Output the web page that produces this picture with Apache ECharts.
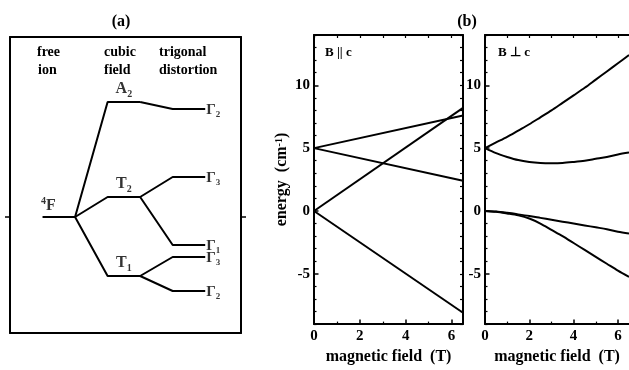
<!DOCTYPE html>
<html><head><meta charset="utf-8">
<script src="https://cdn.jsdelivr.net/npm/echarts@6/dist/echarts.min.js"></script>
<style>html,body{margin:0;padding:0;background:#fff}#c{width:629px;height:370px}</style>
</head><body><div id="c"></div>
<script>
// ---------- Panel (a): level scheme (arbitrary energy units) ----------
const freeIonName = '4F';
const freeIonE = 0;
const cubicNames = ['A2', 'T2', 'T1'];
const cubicE = [115, 20, -59];
const trigonalNames = ['Γ2', 'Γ3', 'Γ1', 'Γ3', 'Γ2'];
const trigonalE = [108, 40, -28, -40, -74];
const trigonalParent = [0, 1, 1, 2, 2];
const stageEdges = [0, 1, 2, 3, 4, 5]; // free ion [0,1], cubic [2,3], trigonal [4,5]

// ---------- Panel (b) left: B || c ----------
const fieldPar = [0, 6.5];
const par1 = [5, 7.6];
const par2 = [0, 8.2];
const par3 = [5, 2.4];
const par4 = [0, -8.1];

// ---------- Panel (b) right: B ⊥ c ----------
const fieldPerp = [0, 0.5, 1, 1.5, 2, 2.5, 3, 3.5, 4, 4.5, 5, 5.5, 6, 6.5];
const perp1 = [5.0, 5.45, 5.9, 6.4, 6.9, 7.45, 8.0, 8.6, 9.2, 9.8, 10.45, 11.1, 11.75, 12.4];
const perp2 = [5.0, 4.6, 4.3, 4.05, 3.9, 3.82, 3.8, 3.82, 3.9, 4.0, 4.15, 4.3, 4.5, 4.65];
const perp3 = [0, -0.05, -0.15, -0.27, -0.4, -0.55, -0.7, -0.85, -1.0, -1.15, -1.3, -1.45, -1.65, -1.8];
const perp4 = [0, -0.07, -0.2, -0.35, -0.6, -1.0, -1.5, -2.0, -2.55, -3.1, -3.65, -4.2, -4.75, -5.25];

// ---------- ticks ----------
const xTickLabels = [0, 2, 4, 6];
const xMinorTicks = [1, 3, 5];
const xAllTicks = [0, 1, 2, 3, 4, 5, 6];
const yTickLabels = [-5, 0, 5, 10];
const yMinorTicks = [-9, -8, -7, -6, -4, -3, -2, -1, 1, 2, 3, 4, 6, 7, 8, 9, 11, 12, 13, 14];
const yAllTicks = [-9, -8, -7, -6, -5, -4, -3, -2, -1, 0, 1, 2, 3, 4, 5, 6, 7, 8, 9, 10, 11, 12, 13, 14];

const SERIF = '"Liberation Serif","Times New Roman",serif';
const BLACK = '#000';

const chart = echarts.init(document.getElementById('c'), null, {renderer: 'canvas'});

function makeRich(big, small, shift) {
  return {
    m: {fontFamily: SERIF, fontWeight: 'bold', fontSize: big, color: BLACK, verticalAlign: 'top'},
    s: {fontFamily: SERIF, fontWeight: 'bold', fontSize: small, color: BLACK, padding: [shift, 0, 0, 0], verticalAlign: 'bottom'},
    sup: {fontFamily: SERIF, fontWeight: 'bold', fontSize: small, color: BLACK, padding: [0, 0, shift, 0], verticalAlign: 'top'},
    mb: {fontFamily: SERIF, fontWeight: 'bold', fontSize: big, color: BLACK, verticalAlign: 'bottom'}
  };
}
const subRich = makeRich(16, 10, 8);
const gammaRich = makeRich(15, 9, 7);
function subLabel(name) { return '{m|' + name[0] + '}{s|' + name.slice(1) + '}'; }
function supLabel(name) { return '{sup|' + name[0] + '}{mb|' + name.slice(1) + '}'; }

// ---------- axes ----------
const xAxes = [], yAxes = [];
function plainLine(w) { return {show: true, onZero: false, lineStyle: {color: BLACK, width: w}}; }

// panel (a) frame
xAxes.push({gridIndex: 0, type: 'value', min: -1, max: 6.1, position: 'bottom', axisLine: plainLine(2),
  axisTick: {show: false}, axisLabel: {show: false}, splitLine: {show: false}});
xAxes.push({gridIndex: 0, type: 'value', min: -1, max: 6.1, position: 'top', axisLine: plainLine(2),
  axisTick: {show: false}, axisLabel: {show: false}, splitLine: {show: false}});
['left', 'right'].forEach(p => yAxes.push({gridIndex: 0, type: 'value', min: -116, max: 180, position: p,
  axisLine: plainLine(2), axisTick: {show: true, inside: false, length: 5, customValues: [freeIonE], lineStyle: {color: BLACK, width: 1.5}},
  axisLabel: {show: false}, splitLine: {show: false}}));

function panelAxes(g, showRight) {
  const lbl = {color: BLACK, fontFamily: SERIF, fontWeight: 'bold', fontSize: 15};
  const xi = xAxes.length, yi = yAxes.length;
  xAxes.push({gridIndex: g, type: 'value', min: 0, max: 6.5, position: 'bottom', axisLine: plainLine(2),
    axisTick: {show: true, inside: true, length: 4.5, customValues: xTickLabels, lineStyle: {color: BLACK, width: 1.5}},
    axisLabel: Object.assign({show: true, customValues: xTickLabels, margin: 5}, lbl),
    splitLine: {show: false},
    name: 'magnetic field  (T)', nameLocation: 'middle', nameGap: 16,
    nameTextStyle: {color: BLACK, fontFamily: SERIF, fontWeight: 'bold', fontSize: 16, verticalAlign: 'top'}});
  xAxes.push({gridIndex: g, type: 'value', min: 0, max: 6.5, position: 'bottom', axisLine: {show: false, onZero: false},
    axisTick: {show: true, inside: true, length: 2.5, customValues: xMinorTicks, lineStyle: {color: BLACK, width: 1.2}},
    axisLabel: {show: false}, splitLine: {show: false}});
  xAxes.push({gridIndex: g, type: 'value', min: 0, max: 6.5, position: 'top', axisLine: plainLine(2),
    axisTick: {show: true, inside: true, length: 3, customValues: xAllTicks, lineStyle: {color: BLACK, width: 1.2}},
    axisLabel: {show: false}, splitLine: {show: false}});
  const yMain = {gridIndex: g, type: 'value', min: -9, max: 14, position: 'left', axisLine: plainLine(2),
    axisTick: {show: true, inside: true, length: 4.5, customValues: yTickLabels, lineStyle: {color: BLACK, width: 1.5}},
    axisLabel: Object.assign({show: true, customValues: yTickLabels, margin: 4}, lbl),
    splitLine: {show: false}};
  if (g === 1) {
    Object.assign(yMain, {name: 'energy  ({c|cm}{sup|-1})', nameLocation: 'middle', nameGap: 20, nameRotate: 90,
      nameTextStyle: {color: BLACK, fontFamily: SERIF, fontWeight: 'bold', fontSize: 16,
        rich: {c: {fontFamily: SERIF, fontWeight: 'bold', fontSize: 16, color: BLACK, lineHeight: 14, verticalAlign: 'bottom'},
               sup: {fontFamily: SERIF, fontWeight: 'bold', fontSize: 10, color: BLACK, lineHeight: 10, padding: [0, 0, 7, 0], verticalAlign: 'top'}}}});
  }
  yAxes.push(yMain);
  yAxes.push({gridIndex: g, type: 'value', min: -9, max: 14, position: 'left', axisLine: {show: false, onZero: false},
    axisTick: {show: true, inside: true, length: 2.5, customValues: yMinorTicks, lineStyle: {color: BLACK, width: 1.2}},
    axisLabel: {show: false}, splitLine: {show: false}});
  yAxes.push({gridIndex: g, type: 'value', min: -9, max: 14, position: 'right', show: showRight,
    axisLine: plainLine(2),
    axisTick: {show: true, inside: true, length: 3, customValues: yAllTicks, lineStyle: {color: BLACK, width: 1.2}},
    axisLabel: {show: false}, splitLine: {show: false}});
  return {xi, yi};
}
const pB1 = panelAxes(1, true);
const pB2 = panelAxes(2, false);

// ---------- series ----------
const series = [];
const lineStyle = {color: BLACK, width: 2};
function seg(data, xi, yi, smooth) {
  series.push({type: 'line', xAxisIndex: xi, yAxisIndex: yi, data: data, showSymbol: false, symbol: 'none',
    smooth: smooth || false, lineStyle: lineStyle, silent: true, animation: false});
}
// panel (a)
seg([[stageEdges[0], freeIonE], [stageEdges[1], freeIonE]], 0, 0);
cubicE.forEach(e => seg([[stageEdges[1], freeIonE], [stageEdges[2], e], [stageEdges[3], e]], 0, 0));
trigonalE.forEach((e, j) => seg([[stageEdges[3], cubicE[trigonalParent[j]]], [stageEdges[4], e], [stageEdges[5], e]], 0, 0));
// labels in panel (a)
series.push({type: 'scatter', xAxisIndex: 0, yAxisIndex: 0, symbolSize: 0, silent: true, animation: false,
  data: cubicNames.map((n, i) => ({value: [(stageEdges[2] + stageEdges[3]) / 2, cubicE[i]], name: n}))
    .concat([{value: [0.18, freeIonE], name: freeIonName, sup: true}]),
  label: {show: true, position: 'top', distance: 3, rich: subRich,
    formatter: p => p.data.sup ? supLabel(p.name) : subLabel(p.name)}});
series.push({type: 'scatter', xAxisIndex: 0, yAxisIndex: 0, symbolSize: 0, silent: true, animation: false,
  data: trigonalNames.map((n, j) => ({value: [stageEdges[5], trigonalE[j]], name: n})),
  label: {show: true, position: 'right', distance: 1, offset: [0, 2], rich: gammaRich, formatter: p => subLabel(p.name)}});

// panel (b) left
[par1, par2, par3, par4].forEach(arr => seg(fieldPar.map((x, i) => [x, arr[i]]), pB1.xi, pB1.yi));
// panel (b) right
[perp1, perp2, perp3, perp4].forEach(arr => seg(fieldPerp.map((x, i) => [x, arr[i]]), pB2.xi, pB2.yi, 0.3));

const txt = (t, x, y, size, weight, align) => ({type: 'text', x: x, y: y, silent: true,
  style: {text: t, fill: BLACK, font: weight + ' ' + size + 'px ' + SERIF, textAlign: align || 'left', textVerticalAlign: 'middle'}});

chart.setOption({
  backgroundColor: '#fff',
  animation: false,
  grid: [
    {left: 10, top: 37, width: 231, height: 296},
    {left: 314, top: 35, width: 149, height: 298},
    {left: 485, top: 35, width: 145, height: 298}
  ],
  xAxis: xAxes,
  yAxis: yAxes,
  series: series,
  graphic: [
    txt('(a)', 121, 22, 16, 'bold', 'center'),
    txt('(b)', 467, 22, 16, 'bold', 'center'),
    txt('free', 37, 52, 14, 'bold'),
    txt('ion', 38, 70, 14, 'bold'),
    txt('cubic', 104, 52, 14, 'bold'),
    txt('field', 104, 70, 14, 'bold'),
    txt('trigonal', 159, 52, 14, 'bold'),
    txt('distortion', 159, 70, 14, 'bold'),
    txt('B || c', 325, 53, 13, 'bold'),
    txt('B ⊥ c', 498, 53, 13, 'bold')
  ]
});
</script></body></html>
